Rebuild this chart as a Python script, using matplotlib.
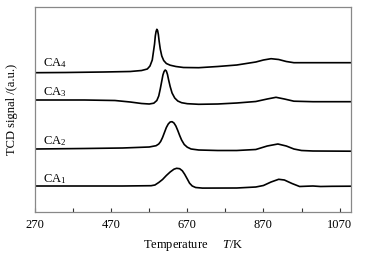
import matplotlib
matplotlib.use("Agg")
import matplotlib.pyplot as plt

plt.rcParams['font.family'] = ['Liberation Serif', 'DejaVu Serif']
plt.rcParams['mathtext.fontset'] = 'custom'
plt.rcParams['mathtext.rm'] = 'Liberation Serif'
plt.rcParams['mathtext.it'] = 'Liberation Serif:italic'

# Temperature (K) and TCD signal (a.u., stacked offsets)
t_ca4 = [270, 350, 450, 520, 550, 565, 572, 578, 581, 584, 586, 588, 590, 592, 594, 596, 599, 603, 608, 615, 625, 640, 660, 700, 750, 800, 850, 870, 890, 910, 930, 950, 1000, 1100]
s_ca4 = [139.3, 139.5, 140, 140.5, 141.5, 143, 146, 152, 160, 168, 176, 180.5, 182.7, 181.5, 177.5, 171, 163, 156, 151.5, 148.5, 146.8, 145.5, 144.5, 144.3, 145.5, 147, 150, 152, 153.3, 152.5, 150.5, 149.3, 149.3, 149.3]

t_ca3 = [270, 400, 480, 520, 550, 570, 582, 590, 595, 599, 603, 606, 609, 612, 615, 618, 621, 625, 630, 637, 645, 655, 670, 700, 750, 800, 850, 880, 903, 925, 950, 1000, 1100]
s_ca3 = [112, 112, 111.5, 110, 108.5, 108, 108.8, 111.5, 116, 123, 131, 137, 140.5, 142, 141, 137.5, 132, 125.5, 119, 114, 111, 109.3, 108.3, 107.7, 108, 109, 110.5, 113, 114.7, 113, 110.8, 110.3, 110.3]

t_ca2 = [270, 400, 500, 570, 588, 595, 600, 605, 610, 615, 620, 625, 630, 635, 640, 645, 650, 655, 662, 670, 680, 700, 750, 800, 850, 880, 908, 930, 950, 970, 1000, 1100]
s_ca2 = [63, 63.5, 64, 65, 66.3, 68, 70.5, 74.5, 79.5, 84.5, 88, 90, 90.3, 89, 86, 81.5, 76.5, 72, 67.5, 64.8, 63, 62, 61.5, 61.5, 62.5, 66, 68, 66, 63, 61.5, 61, 60.8]

t_ca1 = [270, 500, 575, 585, 595, 605, 615, 625, 635, 642, 650, 657, 663, 670, 676, 683, 692, 710, 800, 850, 870, 890, 910, 925, 945, 965, 985, 1000, 1020, 1050, 1100]
s_ca1 = [26, 26, 26.3, 27, 29.5, 32.5, 36.5, 40, 42.8, 43.7, 43.3, 41.2, 37.8, 33, 28.8, 26, 24.5, 23.9, 24, 25, 26.5, 30, 32.7, 32, 28.5, 25.5, 25.8, 26, 25.5, 25.7, 25.8]

labels = ['CA$_4$', 'CA$_3$', 'CA$_2$', 'CA$_1$']
label_y = [149, 120, 71, 33]

xticks = [270, 370, 470, 570, 670, 770, 870, 970, 1070]
xticklabels = ['270', '', '470', '', '670', '', '870', '', '1070']

fig = plt.figure(figsize=(3.74, 2.54), dpi=100)
ax = fig.add_axes([35/374, 42/254, 316/374, 205/254])

for t, s in [(t_ca4, s_ca4), (t_ca3, s_ca3), (t_ca2, s_ca2), (t_ca1, s_ca1)]:
    ax.plot(t, s, color='black', lw=1.2, solid_joinstyle='round')

for lab, y in zip(labels, label_y):
    ax.text(292, y, lab, fontsize=9, va='center', ha='left')

ax.set_xlim(270, 1100)
ax.set_ylim(0, 205)
ax.set_xticks(xticks)
ax.set_xticklabels(xticklabels, fontsize=9)
ax.set_yticks([])
ax.tick_params(axis='x', direction='in', length=3, width=0.8, color='#333333', pad=5)
for sp in ax.spines.values():
    sp.set_color('#888888')
    sp.set_linewidth(0.9)

ax.set_xlabel('Temperature     $T$/K', fontsize=9, labelpad=5)
ax.set_ylabel('TCD signal /(a.u.)', fontsize=9, labelpad=12)

fig.savefig('out.png', dpi=100)
